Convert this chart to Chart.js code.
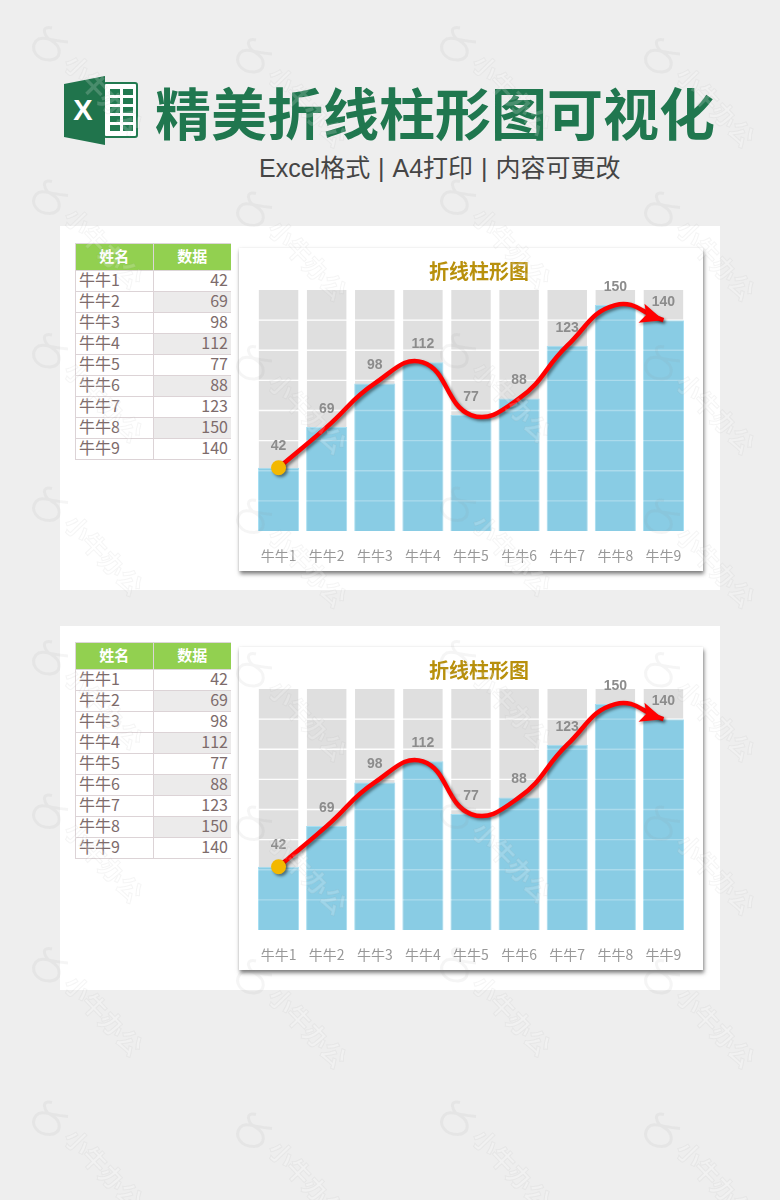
<!DOCTYPE html>
<html lang="zh">
<head>
<meta charset="utf-8">
<title>精美折线柱形图可视化</title>
<script src="https://cdn.jsdelivr.net/npm/chart.js@4/dist/chart.umd.min.js"></script>
<style>
  * { box-sizing: border-box; }
  html, body { margin: 0; padding: 0; }
  body { width: 780px; height: 1200px; position: relative; overflow: hidden; background: #eeeeee;
         font-family: "Noto Sans CJK SC", "Liberation Sans", sans-serif; }
  .icon { position: absolute; left: 60px; top: 72px; }
  h1 { position: absolute; left: 155px; top: 67px; margin: 0; font-size: 56px; line-height: 88px; font-weight: 700;
       color: #20774f; white-space: nowrap; }
  .sub { position: absolute; left: 259px; top: 150px; font-family: "Liberation Sans", "Noto Sans CJK SC", sans-serif;
         font-size: 25px; line-height: 36px; color: #454545; white-space: pre; word-spacing: 1px; }
  .panel { position: absolute; left: 60px; width: 660px; height: 364px; background: #fff; }
  .card { position: absolute; left: 179px; top: 22px; width: 464px; height: 323px; background: #fff;
          box-shadow: 1px 3px 4px rgba(0,0,0,.5), 0 0 2px rgba(0,0,0,.08); }
  .card canvas { display: block; }
  table { position: absolute; left: 15px; top: 17px; width: 156px; border-collapse: collapse; table-layout: fixed; }
  th { height: 27px; background: #92d050; color: #fff; font-size: 15px; font-weight: 700; padding: 0 0 3px;
       border: 1px solid #dcd6d8; border-right: 0; }
  td { height: 21px; padding: 0 3px 3px; font-size: 16px; line-height: 17px; color: #7d6b6b;
       border: 1px solid #dcd3d6; border-right: 0; }
  td.num { text-align: right; }
  tr.alt td.num { background: #ecebeb; }
  .marks { position: absolute; left: 0; top: 0; pointer-events: none; }
</style>
</head>
<body>
<svg class="icon" width="80" height="78" viewBox="0 0 80 78">
  <rect x="44" y="11" width="33" height="54" rx="2" fill="#fff" stroke="#217a50" stroke-width="2"/>
  <g fill="#217a50">
    <rect x="50" y="17" width="10" height="6"/><rect x="63" y="17" width="10" height="6"/>
    <rect x="50" y="26" width="10" height="6"/><rect x="63" y="26" width="10" height="6"/>
    <rect x="50" y="35" width="10" height="6"/><rect x="63" y="35" width="10" height="6"/>
    <rect x="50" y="44" width="10" height="6"/><rect x="63" y="44" width="10" height="6"/>
    <rect x="50" y="53" width="10" height="6"/><rect x="63" y="53" width="10" height="6"/>
  </g>
  <polygon points="4,12 45,4 45,73 4,65" fill="#20744c"/>
  <text x="23" y="48" text-anchor="middle" font-family="Liberation Sans" font-weight="700" font-size="29" fill="#fff">X</text>
</svg>
<h1>精美折线柱形图可视化</h1>
<div class="sub">Excel格式 | A4打印 | 内容可更改</div>

<div class="panel" style="top:226px"><table id="table1"></table><div class="card"><canvas id="chart1" width="464" height="323"></canvas></div></div>
<div class="panel" style="top:626px"><table id="table2" style="top:16px"></table><div class="card" style="top:21px"><canvas id="chart2" width="464" height="323"></canvas></div></div>

<svg class="marks" id="marks" width="780" height="1200"></svg>

<script>
// chart data
const names = ['牛牛1', '牛牛2', '牛牛3', '牛牛4', '牛牛5', '牛牛6', '牛牛7', '牛牛8', '牛牛9'];
const values = [42, 69, 98, 112, 77, 88, 123, 150, 140];
const backdrop = [160, 160, 160, 160, 160, 160, 160, 160, 160];
const tableHead = ['姓名', '数据'];
const chartTitle = '折线柱形图';
const watermark = '小牛办公';

// Fill one of the small tables
function fillTable(id) {
    let html = '<tr><th>' + tableHead[0] + '</th><th>' + tableHead[1] + '</th></tr>';
    names.forEach((name, i) => {
        html += '<tr' + (i % 2 ? ' class="alt"' : '') + '><td>' + name + '</td><td class="num">' + values[i] + '</td></tr>';
    });
    document.getElementById(id).innerHTML = html;
}

function drawRules(chart, color) {
    const ctx = chart.ctx;
    const area = chart.chartArea;
    ctx.save();
    ctx.strokeStyle = color;
    ctx.lineWidth = 1.4;
    chart.scales.y.ticks.forEach(tick => {
        if (tick.value === 0 || tick.value === 160) return;
        const y = chart.scales.y.getPixelForValue(tick.value);
        ctx.beginPath();
        ctx.moveTo(area.left, y);
        ctx.lineTo(area.right, y);
        ctx.stroke();
    });
    ctx.restore();
}

// Rules on top of the bars, value labels, line shadow and the arrow head
const barExtras = {
    id: 'barExtras',
    afterLayout(chart) {
        // the title sits a little right of the plot centre
        chart.titleBlock.left += 16;
    },
    afterDatasetDraw(chart, args) {
        if (args.index === 0) drawRules(chart, 'rgba(255,255,255,0.9)');
        if (args.index === 1) drawRules(chart, 'rgba(255,255,255,0.3)');
        if (args.index === 2) {
            chart.ctx.restore();
            const pts = args.meta.data;
            const end = pts[pts.length - 1];
            const angle = Math.atan2(end.y - end.cp1y, end.x - end.cp1x);
            const ctx = chart.ctx;
            ctx.save();
            ctx.translate(end.x, end.y);
            ctx.rotate(angle);
            ctx.shadowColor = 'rgba(0,0,0,0.35)';
            ctx.shadowOffsetX = 1;
            ctx.shadowOffsetY = 2;
            ctx.shadowBlur = 3;
            ctx.fillStyle = '#ff0000';
            ctx.beginPath();
            ctx.moveTo(0, 0);
            ctx.lineTo(-23, -10);
            ctx.lineTo(-18, 0);
            ctx.lineTo(-23, 10);
            ctx.closePath();
            ctx.fill();
            ctx.restore();
        }
    },
    beforeDatasetDraw(chart, args) {
        if (args.index !== 2) return;
        const ctx = chart.ctx;
        const bars = chart.getDatasetMeta(1).data;
        ctx.save();
        ctx.fillStyle = '#8c8c8c';
        ctx.font = 'bold 14px "Liberation Sans", sans-serif';
        ctx.textAlign = 'center';
        ctx.textBaseline = 'middle';
        bars.forEach((bar, i) => {
            ctx.fillText(String(values[i]), bar.x, bar.y - (i === 0 ? 22 : 18));
        });
        ctx.restore();
        ctx.save();
        ctx.shadowColor = 'rgba(0,0,0,0.45)';
        ctx.shadowOffsetX = 2;
        ctx.shadowOffsetY = 2;
        ctx.shadowBlur = 3;
    }
};

function makeChart(id) {
    const ctx = document.getElementById(id).getContext('2d');
    return new Chart(ctx, {
        data: {
            labels: names,
            datasets: [{
                type: 'bar',
                data: backdrop,
                order: 2,
                backgroundColor: '#dfdfdf',
                barPercentage: 0.82,
                categoryPercentage: 1,
                grouped: false
            }, {
                type: 'bar',
                data: values,
                order: 1,
                backgroundColor: '#89cce4',
                borderColor: '#a6dff3',
                borderWidth: 1,
                barPercentage: 0.855,
                categoryPercentage: 1,
                grouped: false
            }, {
                type: 'line',
                data: values,
                order: 0,
                borderColor: '#ff0000',
                borderWidth: 4.5,
                tension: 0.45,
                fill: false,
                pointRadius: [7.5, 0, 0, 0, 0, 0, 0, 0, 0],
                pointBackgroundColor: '#f3b800',
                pointBorderWidth: 0
            }]
        },
        options: {
            responsive: false,
            animation: false,
            layout: { padding: { left: 15.5, right: 15.5, top: 0, bottom: 0 } },
            plugins: {
                legend: { display: false },
                tooltip: { enabled: false },
                title: {
                    display: true,
                    text: chartTitle,
                    color: '#b8900c',
                    padding: { top: 11, bottom: 7 },
                    font: { family: '"Noto Sans CJK SC"', size: 20, weight: 'bold', lineHeight: 24 / 20 }
                }
            },
            scales: {
                x: {
                    afterFit(scale) {
                        scale.height = 40;
                        scale.paddingLeft = 0;
                        scale.paddingRight = 0;
                    },
                    grid: { display: false },
                    border: { display: false },
                    ticks: {
                        color: '#989898',
                        padding: 8,
                        maxRotation: 0,
                        font: { family: '"Noto Sans CJK SC"', size: 14 }
                    }
                },
                y: {
                    min: 0,
                    max: 160,
                    grid: { display: false, drawTicks: false },
                    border: { display: false },
                    ticks: { display: false, stepSize: 20 }
                }
            }
        },
        plugins: [barExtras]
    });
}

// Faint watermark tiles over the whole page
function drawMarks() {
    let svg = '';
    for (let row = 0; row < 8; row++) {
        for (let col = 0; col < 4; col++) {
            const x = 50 + col * 204;
            const y = 45 + row * 153.5 + (col % 2 ? 12 : 0);
            svg += '<g transform="translate(' + x + ',' + y + ')" fill="rgba(255,255,255,0.18)" stroke="rgba(140,140,140,0.09)" stroke-width="1">' +
                '<path d="M2,-17 C-10,-20 -6,-8 2,-4 C12,2 12,14 0,15 C-14,15 -20,4 -14,-4 C-8,-10 0,-4 18,-3" fill="none" stroke-width="3"/>' +
                '<text transform="translate(12,20) rotate(46)" font-family="Noto Sans CJK SC" font-size="25" font-weight="700">' + watermark + '</text></g>';
        }
    }
    document.getElementById('marks').innerHTML = svg;
}

fillTable('table1');
fillTable('table2');
makeChart('chart1');
makeChart('chart2');
drawMarks();
</script>
</body>
</html>
